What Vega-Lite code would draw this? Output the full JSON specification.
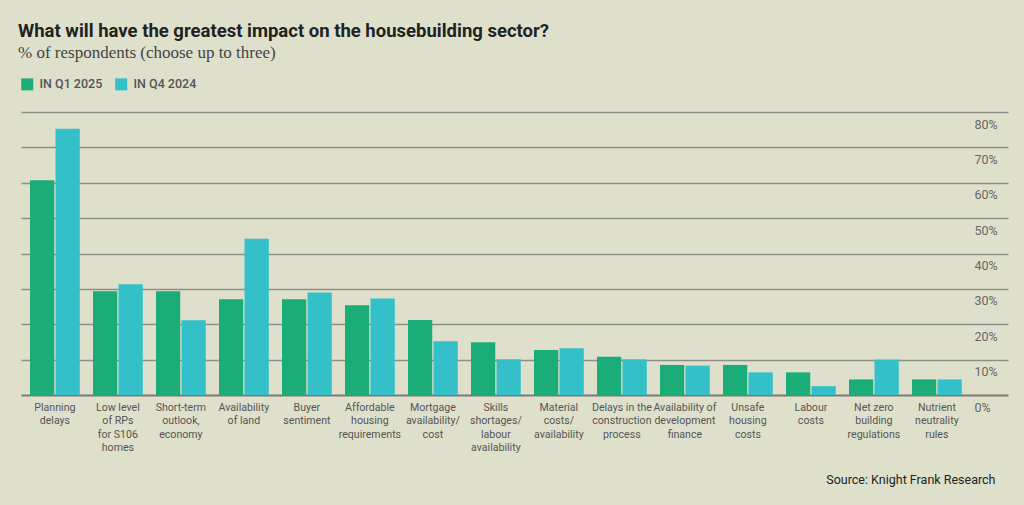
{
  "$schema": "https://vega.github.io/schema/vega-lite/v6.json",
  "autosize": {"type": "none"},
  "width": 987,
  "height": 283,
  "padding": {"left": 21, "top": 112, "right": 16, "bottom": 110},
  "background": "#dfe0cb",
  "title": {
    "text": "What will have the greatest impact on the housebuilding sector?",
    "subtitle": "% of respondents (choose up to three)",
    "anchor": "start",
    "frame": "group",
    "dx": -3,
    "offset": 17,
    "font": "Roboto",
    "fontSize": 18.5,
    "fontWeight": "bold",
    "color": "#222222",
    "subtitleFont": "Liberation Serif",
    "subtitleFontSize": 17,
    "subtitleColor": "#444444",
    "subtitlePadding": 5
  },
  "data": {
    "values": [
      {"factor": "Planning|delays", "period": "IN Q1 2025", "value": 60.7},
      {"factor": "Planning|delays", "period": "IN Q4 2024", "value": 75.3},
      {"factor": "Low level|of RPs|for S106|homes", "period": "IN Q1 2025", "value": 29.3},
      {"factor": "Low level|of RPs|for S106|homes", "period": "IN Q4 2024", "value": 31.3},
      {"factor": "Short-term|outlook,|economy", "period": "IN Q1 2025", "value": 29.3},
      {"factor": "Short-term|outlook,|economy", "period": "IN Q4 2024", "value": 21.1},
      {"factor": "Availability|of land", "period": "IN Q1 2025", "value": 27.1},
      {"factor": "Availability|of land", "period": "IN Q4 2024", "value": 44.2},
      {"factor": "Buyer|sentiment", "period": "IN Q1 2025", "value": 27.1},
      {"factor": "Buyer|sentiment", "period": "IN Q4 2024", "value": 29.0},
      {"factor": "Affordable|housing|requirements", "period": "IN Q1 2025", "value": 25.4},
      {"factor": "Affordable|housing|requirements", "period": "IN Q4 2024", "value": 27.3},
      {"factor": "Mortgage|availability/|cost", "period": "IN Q1 2025", "value": 21.2},
      {"factor": "Mortgage|availability/|cost", "period": "IN Q4 2024", "value": 15.2},
      {"factor": "Skills|shortages/|labour|availability", "period": "IN Q1 2025", "value": 14.9},
      {"factor": "Skills|shortages/|labour|availability", "period": "IN Q4 2024", "value": 10.1},
      {"factor": "Material|costs/|availability", "period": "IN Q1 2025", "value": 12.7},
      {"factor": "Material|costs/|availability", "period": "IN Q4 2024", "value": 13.2},
      {"factor": "Delays in the|construction|process", "period": "IN Q1 2025", "value": 10.8},
      {"factor": "Delays in the|construction|process", "period": "IN Q4 2024", "value": 10.1},
      {"factor": "Availability of|development|finance", "period": "IN Q1 2025", "value": 8.5},
      {"factor": "Availability of|development|finance", "period": "IN Q4 2024", "value": 8.3},
      {"factor": "Unsafe|housing|costs", "period": "IN Q1 2025", "value": 8.5},
      {"factor": "Unsafe|housing|costs", "period": "IN Q4 2024", "value": 6.4},
      {"factor": "Labour|costs", "period": "IN Q1 2025", "value": 6.4},
      {"factor": "Labour|costs", "period": "IN Q4 2024", "value": 2.5},
      {"factor": "Net zero|building|regulations", "period": "IN Q1 2025", "value": 4.4},
      {"factor": "Net zero|building|regulations", "period": "IN Q4 2024", "value": 10.0},
      {"factor": "Nutrient|neutrality|rules", "period": "IN Q1 2025", "value": 4.4},
      {"factor": "Nutrient|neutrality|rules", "period": "IN Q4 2024", "value": 4.4}
    ]
  },
  "mark": {"type": "bar"},
  "encoding": {
    "x": {
      "field": "factor",
      "type": "nominal",
      "sort": null,
      "scale": {"paddingInner": 0.21, "paddingOuter": 0.4385, "align": 0.163},
      "axis": {
        "title": "Source: Knight Frank Research",
        "titleAnchor": "end",
        "titleAlign": "right",
        "titleBaseline": "alphabetic",
        "titleX": 974,
        "titleY": 88,
        "titleFont": "Roboto",
        "titleFontSize": 12.5,
        "titleFontWeight": "normal",
        "titleColor": "#222222",
        "labelExpr": "split(datum.label, '|')",
        "labelAngle": 0,
        "labelFont": "Roboto",
        "labelFontSize": 10.6,
        "labelColor": "#555555",
        "labelLineHeight": 13.5,
        "labelPadding": 7,
        "labelBaseline": "top",
        "labelLimit": 200,
        "ticks": false,
        "domain": false
      }
    },
    "xOffset": {
      "field": "period",
      "type": "nominal",
      "sort": ["IN Q1 2025", "IN Q4 2024"],
      "scale": {"paddingInner": 0.05}
    },
    "y": {
      "field": "value",
      "type": "quantitative",
      "scale": {"domain": [0, 80], "nice": false},
      "axis": {
        "orient": "right",
        "title": null,
        "values": [0, 10, 20, 30, 40, 50, 60, 70, 80],
        "labelExpr": "datum.value + '%'",
        "labelAlign": "left",
        "labelBaseline": "middle",
        "labelPadding": -34,
        "labelOffset": 12,
        "labelFont": "Roboto",
        "labelFontSize": 12.5,
        "labelColor": "#666666",
        "ticks": false,
        "tickSize": 0,
        "domain": false,
        "grid": true,
        "gridColor": {"condition": {"test": "datum.value === 0", "value": "#7a7a76"}, "value": "#8e8e89"},
        "gridWidth": {"condition": {"test": "datum.value === 0", "value": 2}, "value": 1.3},
        "gridOpacity": 1
      }
    },
    "color": {
      "field": "period",
      "type": "nominal",
      "scale": {"domain": ["IN Q1 2025", "IN Q4 2024"], "range": ["#1aad78", "#33c0c9"]},
      "legend": {
        "orient": "top",
        "direction": "horizontal",
        "title": null,
        "symbolType": "square",
        "symbolSize": 144,
        "symbolStrokeWidth": 0,
        "symbolOpacity": 1,
        "labelFont": "Roboto",
        "labelFontSize": 12.5,
        "labelFontWeight": 500,
        "labelColor": "#555555",
        "labelOffset": 6,
        "columnPadding": 12,
        "offset": 21,
        "padding": 0
      }
    }
  },
  "config": {
    "view": {"stroke": null}
  }
}
